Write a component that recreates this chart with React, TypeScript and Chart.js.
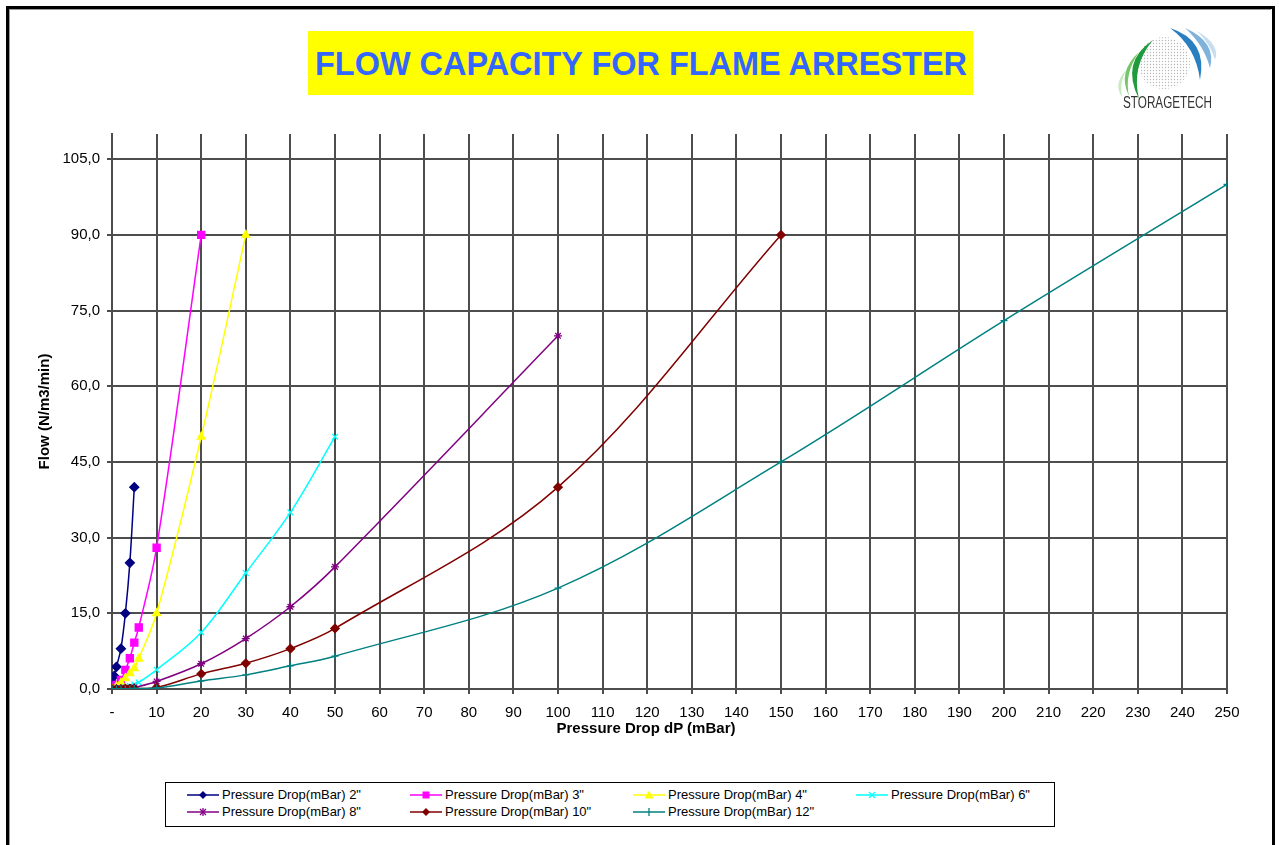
import React, { useEffect, useRef } from "react";
import { Chart, registerables } from "chart.js";

Chart.register(...registerables);

const FONT = '"Liberation Sans", Arial, Helvetica, sans-serif';

// ---- Data (pressure drop in mBar -> flow in N/m3/min) ----
const dp2 = [0, 0.2, 0.5, 1, 2, 3, 4, 5];
const flow2 = [0, 1.2, 2.6, 4.4, 8, 15, 25, 40];

const dp3 = [0, 1, 2, 3, 4, 5, 6, 10, 20];
const flow3 = [0, 0.8, 1.8, 3.8, 6.1, 9.2, 12.2, 28, 90];

const dp4 = [0, 1, 2, 3, 4, 5, 6, 10, 20, 30];
const flow4 = [0, 0.5, 1.2, 2.1, 3.1, 4.1, 6, 15, 50, 90];

const dp6 = [0, 1, 2, 3, 4, 5, 6, 10, 20, 30, 40, 50];
const flow6 = [0, 0.1, 0.2, 0.4, 0.6, 0.9, 1.3, 3.8, 11.2, 23, 35, 50];

const dp8 = [0, 1, 2, 3, 4, 5, 10, 20, 30, 40, 50, 100];
const flow8 = [0, 0.1, 0.1, 0.2, 0.2, 0.3, 1.5, 5, 10, 16.3, 24.2, 70];

const dp10 = [0, 1, 2, 3, 4, 5, 10, 20, 30, 40, 50, 100, 150];
const flow10 = [0, 0, 0, 0.1, 0.1, 0.1, 0.3, 3, 5.1, 8, 12, 40, 90];

const dp12 = [0, 1, 2, 3, 4, 5, 10, 20, 30, 40, 50, 100, 150, 200, 250];
const flow12 = [0, 0, 0, 0, 0, 0.1, 0.2, 1.6, 2.8, 4.6, 6.5, 20, 45, 73, 100];

const seriesNames = [
  'Pressure Drop(mBar) 2"',
  'Pressure Drop(mBar) 3"',
  'Pressure Drop(mBar) 4"',
  'Pressure Drop(mBar) 6"',
  'Pressure Drop(mBar) 8"',
  'Pressure Drop(mBar) 10"',
  'Pressure Drop(mBar) 12"',
];
const seriesDp = [dp2, dp3, dp4, dp6, dp8, dp10, dp12];
const seriesFlow = [flow2, flow3, flow4, flow6, flow8, flow10, flow12];
const seriesColors = ["#000080", "#ff00ff", "#ffff00", "#00ffff", "#800080", "#800000", "#008080"];
const seriesMarkers = ["rectRot", "rect", "triangle", "crossRot", "star", "rectRot", "cross"];
const seriesRadius = [4.5, 5, 4.5, 4, 4, 4.2, 3.5];

const X_MIN = 0;
const X_MAX = 250;
const X_STEP = 10;
const Y_MIN = 0;
const Y_MAX = 110;
const Y_STEP = 15;

const TITLE = "FLOW CAPACITY FOR FLAME ARRESTER";
const X_TITLE = "Pressure Drop dP (mBar)";
const Y_TITLE = "Flow (N/m3/min)";

const GRID = "#4d4d4d";

function LegendMarker({ style, color }: { style: string; color: string }) {
  const cx = 16;
  const cy = 6;
  let m: any = null;
  if (style === "rectRot") {
    m = <polygon points={`${cx},${cy - 4} ${cx + 4},${cy} ${cx},${cy + 4} ${cx - 4},${cy}`} fill={color} />;
  } else if (style === "rect") {
    m = <rect x={cx - 3.5} y={cy - 3.5} width={7} height={7} fill={color} />;
  } else if (style === "triangle") {
    m = <polygon points={`${cx},${cy - 4.5} ${cx + 4.5},${cy + 3.5} ${cx - 4.5},${cy + 3.5}`} fill={color} />;
  } else if (style === "crossRot") {
    m = (
      <g stroke={color} strokeWidth={1.3}>
        <line x1={cx - 3} y1={cy - 3} x2={cx + 3} y2={cy + 3} />
        <line x1={cx - 3} y1={cy + 3} x2={cx + 3} y2={cy - 3} />
      </g>
    );
  } else if (style === "star") {
    m = (
      <g stroke={color} strokeWidth={1.3}>
        <line x1={cx - 3} y1={cy - 3} x2={cx + 3} y2={cy + 3} />
        <line x1={cx - 3} y1={cy + 3} x2={cx + 3} y2={cy - 3} />
        <line x1={cx} y1={cy - 4} x2={cx} y2={cy + 4} />
      </g>
    );
  } else if (style === "cross") {
    m = (
      <g stroke={color} strokeWidth={1.3}>
        <line x1={cx} y1={cy - 4} x2={cx} y2={cy + 4} />
      </g>
    );
  }
  return (
    <svg width={32} height={12} style={{ display: "block" }}>
      <line x1={0} y1={cy} x2={32} y2={cy} stroke={color} strokeWidth={1.5} />
      {m}
    </svg>
  );
}

function Logo() {
  return (
    <svg
      width={125}
      height={95}
      viewBox="1100 20 125 95"
      style={{ position: "absolute", left: 1100, top: 20 }}
    >
      <defs>
        <pattern id="dots" width="3" height="3" patternUnits="userSpaceOnUse">
          <circle cx="1.5" cy="1.5" r="0.7" fill="#b8b8b8" />
        </pattern>
      </defs>
      <circle cx={1164} cy={63} r={26} fill="url(#dots)" />
      <path d="M1126 70 Q1113 84 1122 97 Q1119 84 1126 70 Z" fill="#c6e9bd" />
      <path d="M1139 52 Q1117 72 1129 96 Q1124 74 1139 52 Z" fill="#74c768" />
      <path d="M1153 40 Q1120 62 1139 99 Q1131 66 1153 40 Z" fill="#1f9a3c" />
      <path d="M1170 28 Q1208 40 1200 80 Q1196 47 1170 28 Z" fill="#2a7fc1" />
      <path d="M1185 28 Q1217 42 1210 68 Q1204 45 1185 28 Z" fill="#7fb3dc" />
      <path d="M1197 31 Q1221 45 1215 60 Q1211 45 1197 31 Z" fill="#c8def0" />
      <text
        x={1123}
        y={108}
        fontFamily={FONT}
        fontSize={16}
        fill="#333"
        textLength={89}
        lengthAdjust="spacingAndGlyphs"
      >
        STORAGETECH
      </text>
    </svg>
  );
}

export default function App() {
  const canvasRef = useRef<HTMLCanvasElement | null>(null);

  useEffect(() => {
    const canvas = canvasRef.current;
    if (!canvas) return;

    const datasets = seriesNames.map((name, i) => ({
      label: name,
      data: seriesDp[i].map((x, j) => ({ x, y: seriesFlow[i][j] })),
      showLine: true,
      borderColor: seriesColors[i],
      backgroundColor: seriesColors[i],
      borderWidth: 1.5,
      pointStyle: seriesMarkers[i],
      pointRadius: seriesRadius[i],
      pointBorderWidth: 1.3,
      pointBackgroundColor: seriesColors[i],
      pointBorderColor: seriesColors[i],
      tension: 0.35,
      order: seriesNames.length - i,
    }));

    const chart = new Chart(canvas, {
      type: "scatter",
      data: { datasets: datasets as any },
      options: {
        animation: false,
        responsive: false,
        devicePixelRatio: 1,
        layout: { padding: { left: 30, top: 134, right: 52, bottom: 845 - 689 - 34 } },
        plugins: {
          legend: { display: false },
          tooltip: { enabled: false },
          title: { display: false },
        },
        scales: {
          x: {
            type: "linear",
            min: X_MIN,
            max: X_MAX,
            afterFit: (s: any) => {
              s.height = 34;
            },
            ticks: {
              stepSize: X_STEP,
              autoSkip: false,
              maxRotation: 0,
              padding: 10,
              color: "#000",
              font: { family: FONT, size: 15 },
              callback: (v: any) => (Number(v) === 0 ? "-" : String(v)),
            },
            grid: { color: GRID, lineWidth: 2, tickLength: 5, drawTicks: true },
            border: { display: true, color: GRID, width: 2 },
          },
          y: {
            type: "linear",
            min: Y_MIN,
            max: Y_MAX,
            afterFit: (s: any) => {
              s.width = 82;
            },
            ticks: {
              stepSize: Y_STEP,
              includeBounds: false,
              padding: 7,
              color: "#000",
              font: { family: FONT, size: 15 },
              callback: (v: any) => Number(v).toFixed(1).replace(".", ","),
            },
            grid: { color: GRID, lineWidth: 2, tickLength: 5, drawTicks: true },
            border: { display: true, color: GRID, width: 2 },
            title: {
              display: true,
              text: Y_TITLE,
              color: "#000",
              padding: 6,
              font: { family: FONT, size: 15, weight: "bold" },
            },
          },
        },
      } as any,
    });

    return () => chart.destroy();
  }, []);

  return (
    <div
      style={{
        position: "absolute",
        left: 0,
        top: 0,
        width: 1279,
        height: 845,
        overflow: "hidden",
        background: "#fff",
        fontFamily: FONT,
      }}
    >
      {/* outer frame */}
      <div
        style={{
          position: "absolute",
          left: 6,
          top: 6,
          width: 1269,
          height: 900,
          boxSizing: "border-box",
          borderTop: "3px solid #000",
          borderLeft: "3px solid #000",
          borderRight: "3px solid #000",
        }}
      />
      <div
        style={{
          position: "absolute",
          left: 9,
          top: 9,
          width: 1262,
          height: 900,
          boxSizing: "border-box",
          borderTop: "1px solid #9a9a9a",
          borderLeft: "1px solid #9a9a9a",
        }}
      />

      <canvas ref={canvasRef} width={1279} height={845} style={{ position: "absolute", left: 0, top: 0 }} />

      {/* chart title */}
      <div
        style={{
          position: "absolute",
          left: 308,
          top: 31,
          width: 665,
          height: 64,
          background: "#ffff00",
        }}
      >
        <svg width={665} height={64} style={{ display: "block" }}>
          <text
            x={7}
            y={44}
            fontFamily={FONT}
            fontWeight="bold"
            fontSize={33}
            fill="#3366ff"
            textLength={652}
            lengthAdjust="spacingAndGlyphs"
          >
            {TITLE}
          </text>
        </svg>
      </div>

      <Logo />

      {/* x axis title */}
      <div
        style={{
          position: "absolute",
          left: 446,
          top: 719,
          width: 400,
          textAlign: "center",
          fontWeight: "bold",
          fontSize: 15,
          lineHeight: "18px",
          color: "#000",
          whiteSpace: "nowrap",
        }}
      >
        {X_TITLE}
      </div>

      {/* legend */}
      <div
        style={{
          position: "absolute",
          left: 165,
          top: 782,
          width: 890,
          height: 45,
          boxSizing: "border-box",
          border: "1px solid #000",
          background: "#fff",
        }}
      >
        {seriesNames.map((name, i) => {
          const col = i % 4;
          const row = Math.floor(i / 4);
          return (
            <div
              key={name}
              style={{
                position: "absolute",
                left: 21 + col * 223,
                top: 5 + row * 17,
                height: 14,
                display: "flex",
                alignItems: "center",
                whiteSpace: "nowrap",
              }}
            >
              <LegendMarker style={seriesMarkers[i]} color={seriesColors[i]} />
              <span style={{ marginLeft: 3, fontSize: 13, lineHeight: "14px", color: "#000" }}>{name}</span>
            </div>
          );
        })}
      </div>
    </div>
  );
}
